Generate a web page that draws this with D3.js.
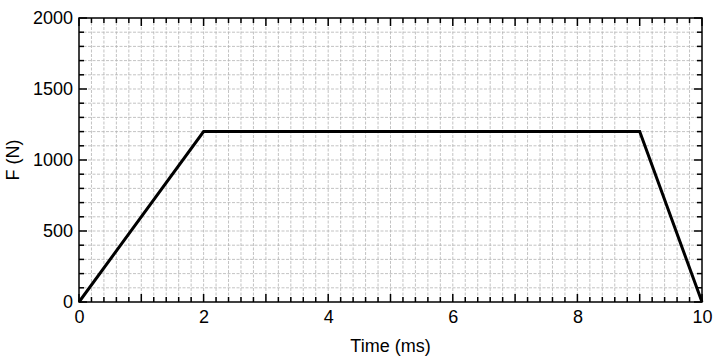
<!DOCTYPE html>
<html><head><meta charset="utf-8">
<script src="https://cdn.jsdelivr.net/npm/d3@7"></script>
<style>body{margin:0;background:#fff}svg{display:block}text{font-family:"Liberation Sans",Arial,sans-serif}</style>
</head><body><svg id="c" width="720" height="360"></svg>
<script>
const timeMs = [0, 2, 9, 10];
const forceN = [0, 1200, 1200, 0];
const xTickLabels = [0, 2, 4, 6, 8, 10];
const yTickLabels = [0, 500, 1000, 1500, 2000];

const svg = d3.select("#c");
const L = 79, R = 702, T = 18, B = 302;
const x = d3.scaleLinear().domain([0, 10]).range([L, R]);
const y = d3.scaleLinear().domain([0, 2000]).range([B, T]);

const xMinor = d3.range(0, 10.001, 0.2);
const yMinor = d3.range(0, 2000.1, 100);
const g = svg.append("g");
g.selectAll(".gx").data(xMinor.slice(1, -1)).join("line")
  .attr("x1", d => x(d)).attr("x2", d => x(d)).attr("y1", T).attr("y2", B)
  .attr("stroke", "#b4b4b4").attr("stroke-width", 0.8).attr("stroke-dasharray", "3,1.5");
g.selectAll(".gy").data(yMinor.slice(1, -1)).join("line")
  .attr("y1", d => y(d)).attr("y2", d => y(d)).attr("x1", L).attr("x2", R)
  .attr("stroke", "#b4b4b4").attr("stroke-width", 0.8).attr("stroke-dasharray", "3,1.5");

// ticks (inside) on all four sides
function ticksX(yPos, dir) {
  svg.append("g").selectAll("line").data(xMinor).join("line")
    .attr("x1", d => x(d)).attr("x2", d => x(d))
    .attr("y1", yPos).attr("y2", d => yPos + dir * (Math.abs(d - Math.round(d)) < 1e-6 ? 8 : 5))
    .attr("stroke", "#000").attr("stroke-width", 1.5);
}
function ticksY(xPos, dir) {
  svg.append("g").selectAll("line").data(yMinor).join("line")
    .attr("y1", d => y(d)).attr("y2", d => y(d))
    .attr("x1", xPos).attr("x2", d => xPos + dir * (d % 500 === 0 ? 8 : 5))
    .attr("stroke", "#000").attr("stroke-width", 1.5);
}
ticksX(B, -1); ticksX(T, 1); ticksY(L, 1); ticksY(R, -1);

svg.append("rect").attr("x", L).attr("y", T).attr("width", R - L).attr("height", B - T)
  .attr("fill", "none").attr("stroke", "#000").attr("stroke-width", 1.5);

const xAxis = svg.append("g").attr("transform", `translate(0,${B})`)
  .call(d3.axisBottom(x).tickValues(xTickLabels).tickSize(0).tickPadding(8).tickFormat(d3.format("d")));
xAxis.select(".domain").remove();
xAxis.selectAll("text").attr("font-size", 18).attr("fill", "#000").style("font-family", "Liberation Sans, Arial, sans-serif");
const yAxis = svg.append("g").attr("transform", `translate(${L},0)`)
  .call(d3.axisLeft(y).tickValues(yTickLabels).tickSize(0).tickPadding(6).tickFormat(d3.format("d")));
yAxis.select(".domain").remove();
yAxis.selectAll("text").attr("font-size", 18).attr("fill", "#000").style("font-family", "Liberation Sans, Arial, sans-serif");

svg.append("text").attr("x", (L + R) / 2).attr("y", 352).attr("text-anchor", "middle")
  .attr("font-size", 18).text("Time (ms)");
svg.append("text").attr("transform", `translate(13,${(T + B) / 2}) rotate(-90)`)
  .attr("text-anchor", "middle").attr("dy", "0.35em").attr("font-size", 18).text("F (N)");

const line = d3.line().x(d => x(d[0])).y(d => y(d[1]));
svg.append("path").datum(timeMs.map((t, i) => [t, forceN[i]]))
  .attr("d", line).attr("fill", "none").attr("stroke", "#000").attr("stroke-width", 3)
  .attr("stroke-linejoin", "miter");
</script></body></html>
